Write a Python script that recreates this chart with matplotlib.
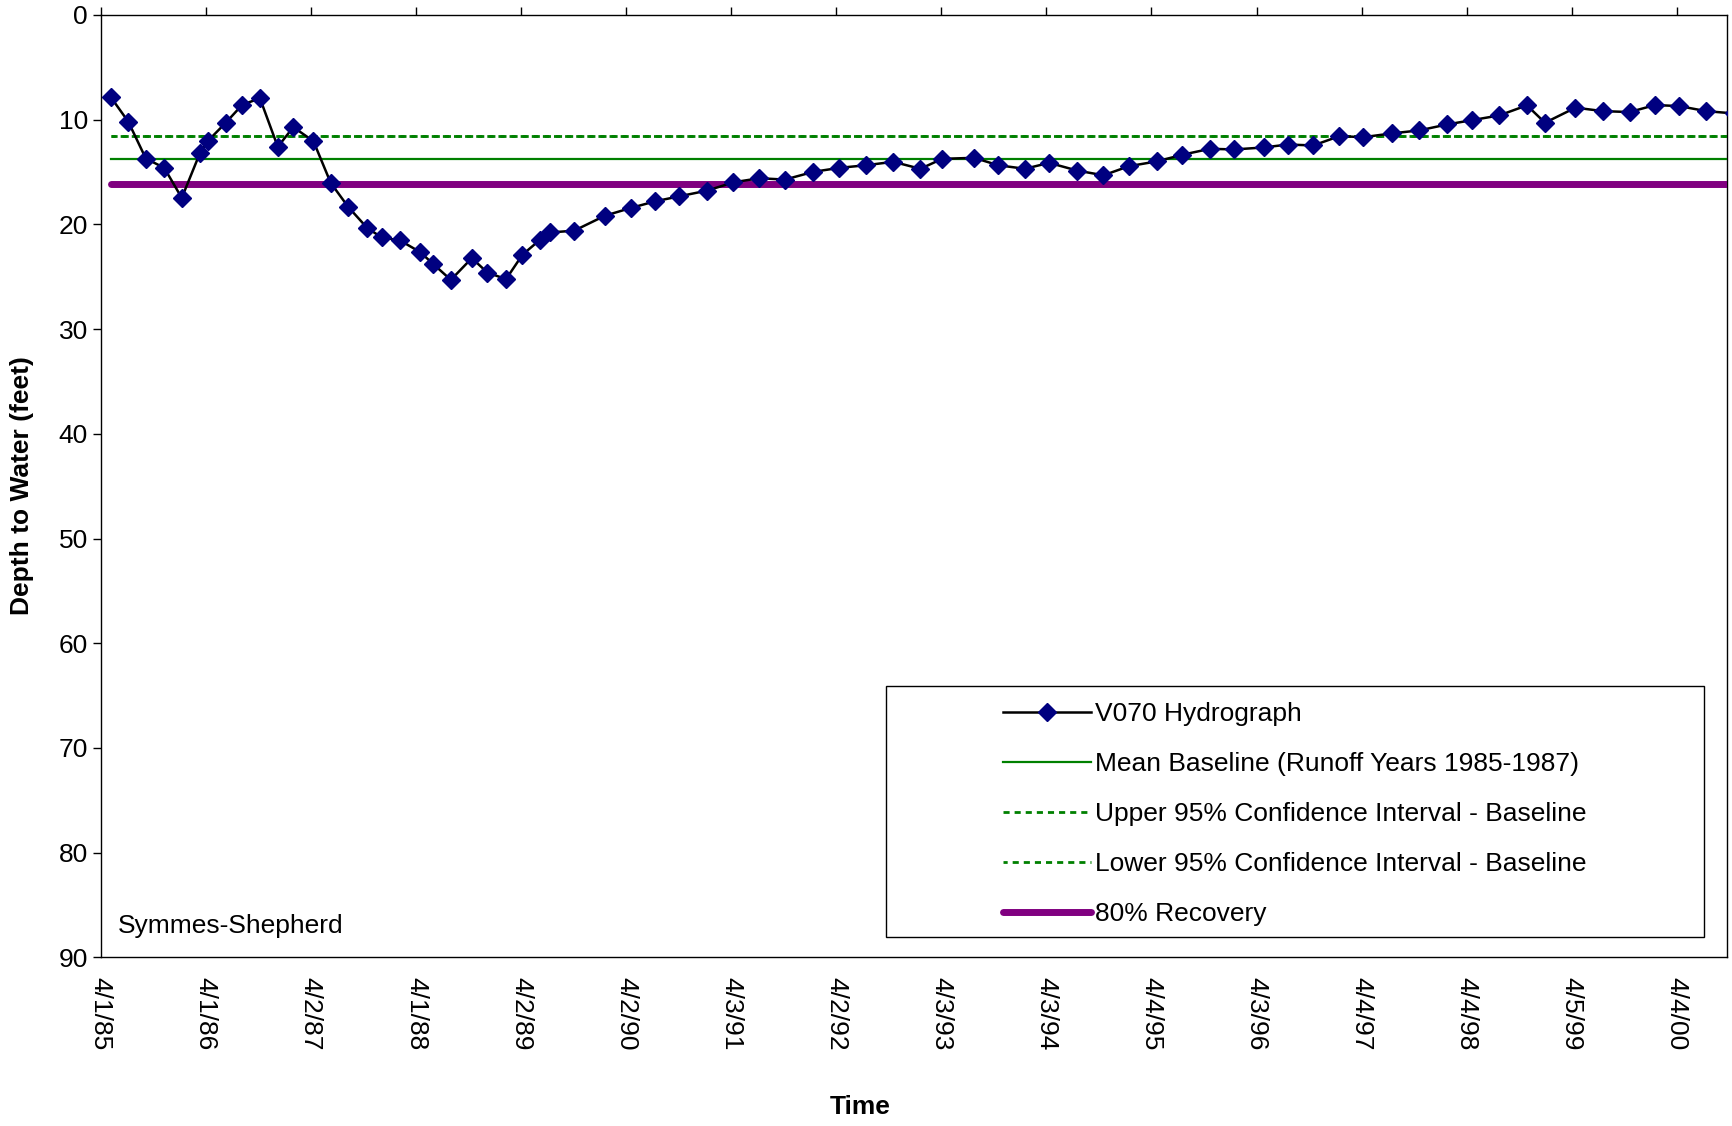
import matplotlib
matplotlib.use('Agg')
import matplotlib.pyplot as plt
from matplotlib.patches import Rectangle

plt.rcParams['font.family'] = ['Liberation Sans', 'DejaVu Sans']

# V070 hydrograph: days after 4/1/85 and depth to water (feet)
days = [35, 96, 157, 221, 282, 345, 372, 435, 493, 554, 616, 670, 740, 800,
        861, 927, 977, 1041, 1111, 1157, 1218, 1291, 1345, 1410, 1467, 1528,
        1563, 1647, 1754, 1844, 1928, 2012, 2110, 2201, 2291, 2380, 2479, 2569,
        2662, 2757, 2851, 2927, 3038, 3122, 3215, 3299, 3397, 3488, 3577, 3676,
        3762, 3859, 3943, 4047, 4129, 4218, 4309, 4392, 4491, 4587, 4684, 4771,
        4865, 4961, 5024, 5130, 5225, 5318, 5407, 5491, 5584, 5680]
depth = [7.84, 10.19, 13.71, 14.6, 17.47, 13.2, 12.05, 10.29, 8.56, 7.96,
         12.59, 10.71, 12.05, 16.03, 18.33, 20.34, 21.24, 21.53, 22.64, 23.79,
         25.3, 23.22, 24.6, 25.23, 22.9, 21.47, 20.77, 20.6, 19.17, 18.43,
         17.8, 17.32, 16.77, 15.98, 15.59, 15.72, 14.98, 14.6, 14.35, 14.02,
         14.69, 13.74, 13.64, 14.35, 14.69, 14.12, 14.86, 15.31, 14.44, 13.97,
         13.35, 12.78, 12.84, 12.65, 12.37, 12.46, 11.57, 11.67, 11.31, 11.02,
         10.45, 10.04, 9.59, 8.63, 10.29, 8.85, 9.18, 9.27, 8.6, 8.7, 9.18, 9.4]

mean_baseline = 13.8
upper_ci = 11.6
lower_ci = 11.6
recovery_80 = 16.1

tick_labels = ['4/1/85', '4/1/86', '4/2/87', '4/1/88', '4/2/89', '4/2/90',
               '4/3/91', '4/2/92', '4/3/93', '4/3/94', '4/4/95', '4/3/96',
               '4/4/97', '4/4/98', '4/5/99', '4/4/00']
tick_step = 365.5  # excel major unit, days
y_ticks = [0, 10, 20, 30, 40, 50, 60, 70, 80, 90]

W, H = 1732, 1126
FS = 19
fig = plt.figure(figsize=(W / 100, H / 100), dpi=100)
ax = fig.add_axes([100.7 / W, 1 - 957.3 / H, (1726.7 - 100.7) / W, (957.3 - 15) / H])

span = [days[0], days[-1]]
ax.plot(days, depth, color='black', lw=1.8, marker='D', ms=9,
        mfc='#000080', mec='#000080', zorder=6, label='V070 Hydrograph')
ax.plot(span, [mean_baseline] * 2, color='#008000', lw=1.6, zorder=3,
        label='Mean Baseline (Runoff Years 1985-1987)')
ax.plot(span, [upper_ci] * 2, color='#008000', lw=2, ls=(0, (2.2, 1.8)), zorder=3,
        label='Upper 95% Confidence Interval - Baseline')
ax.plot(span, [lower_ci] * 2, color='#008000', lw=2, ls=(0.7, (2.2, 1.8)), zorder=3,
        label='Lower 95% Confidence Interval - Baseline')
ax.plot(span, [recovery_80] * 2, color='#800080', lw=5, solid_capstyle='round',
        zorder=4, label='80% Recovery')

ax.set_xlim(0, 5656)
ax.set_ylim(90, 0)
ax.set_xticks([i * tick_step for i in range(len(tick_labels))])
ax.set_xticklabels(tick_labels, rotation=-90, fontsize=FS)
ax.set_yticks(y_ticks)
ax.set_yticklabels([str(v) for v in y_ticks], fontsize=FS)
ax.tick_params(axis='x', top=True, bottom=False, labeltop=False, labelbottom=True,
               direction='out', length=5.76, width=1, pad=8.4)
ax.tick_params(axis='y', direction='out', length=5.76, width=1, pad=3.4)
for s in ax.spines.values():
    s.set_linewidth(1)
    s.set_color('black')

fig.text(22 / W, 1 - 486 / H, 'Depth to Water (feet)', rotation=90, ha='center',
         va='center', fontsize=FS, fontweight='bold')
fig.text(860 / W, 1 - 1107 / H, 'Time', ha='center', va='center', fontsize=FS,
         fontweight='bold')
fig.text(118 / W, 1 - 933 / H, 'Symmes-Shepherd', ha='left', va='baseline', fontsize=FS)

# legend frame drawn by hand, excel style
box = Rectangle((886 / W, 1 - 937 / H), 818 / W, 251 / H, transform=fig.transFigure,
                facecolor='white', edgecolor='black', lw=1, zorder=7)
fig.patches.append(box)
leg = fig.legend(loc='upper left', bbox_to_anchor=(1003 / W, 1 - 702 / H),
                 bbox_transform=fig.transFigure, frameon=False, fontsize=FS,
                 handlelength=3.33, handletextpad=0.15, labelspacing=0.99,
                 borderpad=0, borderaxespad=0, numpoints=1)
leg.set_zorder(8)

fig.savefig('out.png', dpi=100)
